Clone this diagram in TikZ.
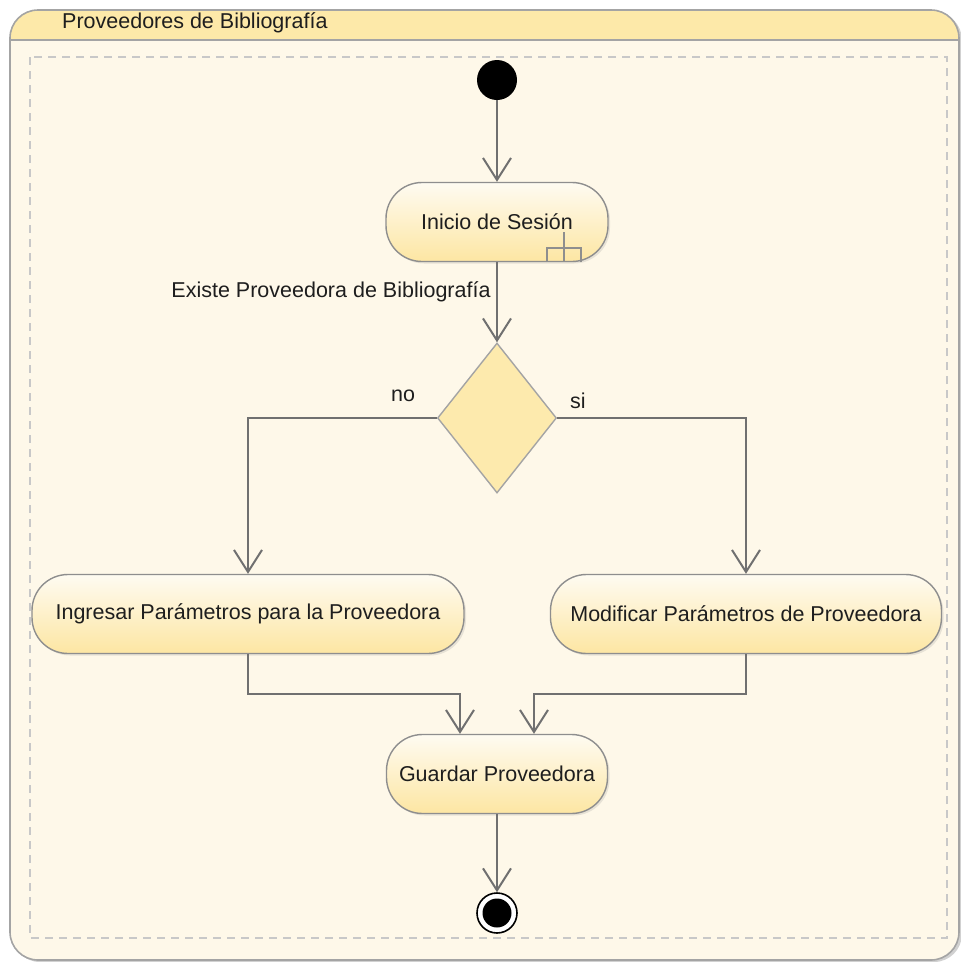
\documentclass[tikz,border=0pt]{standalone}
\usepackage{fontspec}
\setmainfont{Liberation Sans}
\usetikzlibrary{arrows.meta,shapes.geometric,shadows}
\definecolor{framefill}{HTML}{FEF8E9}
\definecolor{headfill}{HTML}{FDE9A9}
\definecolor{frameline}{HTML}{A4A4A4}
\definecolor{boxline}{HTML}{8E8E8E}
\definecolor{boxtop}{HTML}{FEFBF1}
\definecolor{boxbot}{HTML}{FDE6A3}
\definecolor{conn}{HTML}{707070}
\definecolor{dashc}{HTML}{C8C8C8}
\definecolor{txt}{HTML}{1E1E1E}
\tikzset{
  act/.style={rectangle, rounded corners=36pt, draw=boxline, line width=1.4pt,
    top color=boxtop, bottom color=boxbot, text=txt, font=\fontsize{21.5}{24}\selectfont,
    drop shadow={opacity=0.18, shadow xshift=2pt, shadow yshift=-2pt}},
  arr/.style={draw=conn, line width=2pt, -{Straight Barb[length=22pt,width=28pt,line width=2pt]}},
  lbl/.style={text=txt, font=\fontsize{21.5}{24}\selectfont, inner sep=0pt}
}
\begin{document}
\begin{tikzpicture}[x=1pt,y=-1pt]
\useasboundingbox (0,0) rectangle (961,962);
% frame
\fill[black!18] (12,12) [rounded corners=28pt] rectangle (962,962);
\fill[framefill, rounded corners=28pt] (10,10) rectangle (959,960);
\begin{scope}
  \clip (0,0) rectangle (961,40);
  \fill[headfill, rounded corners=28pt] (10,10) rectangle (959,960);
\end{scope}
\draw[frameline, line width=1.6pt] (10,40) -- (959,40);
\draw[frameline, line width=1.6pt, rounded corners=28pt] (10,10) rectangle (959,960);
\node[lbl, anchor=west] (title) at (62,23) {Proveedores de Bibliografía};
\draw[dashc, line width=1.4pt, dash pattern=on 8pt off 6pt] (30,57) rectangle (947,938);

% nodes
\node[circle, fill=black, minimum size=40pt, inner sep=0pt] (start) at (497,80) {};
\node[act, minimum width=222pt, minimum height=79pt] (ini) at (497,222) {Inicio de Sesión};
\draw[boxline, line width=1.4pt] (547,262) -- (547,248) -- (581,248) -- (581,262);
\draw[boxline, line width=1.4pt] (564,232) -- (564,262);
\node[lbl] (exi) at (331,292) {Existe Proveedora de Bibliografía};
\node[diamond, draw=frameline, line width=1.4pt, fill=headfill!95!white, minimum width=119pt, minimum height=150pt, inner sep=0pt] (dec) at (497,418) {};
\node[lbl] (no) at (403,396) {no};
\node[lbl] (si) at (578,401) {si};
\node[act, minimum width=432pt, minimum height=79pt] (ing) at (248,614) {Ingresar Parámetros para la Proveedora};
\node[act, minimum width=391pt, minimum height=79pt] (mod) at (746,614) {Modificar Parámetros de Proveedora};
\node[act, minimum width=221pt, minimum height=79pt] (gua) at (497,774) {Guardar Proveedora};
\node[circle, draw=black, line width=1.6pt, fill=white, minimum size=40pt, inner sep=0pt] (fin) at (497,913) {};
\node[circle, fill=black, minimum size=29pt, inner sep=0pt] (finin) at (497,913) {};

\coordinate (j1) at (460,694);
\coordinate (j2) at (534,694);

% connectors
\draw[arr] (start) -- (ini.north);
\draw[arr] (ini.south) -- (dec.north);
\draw[arr] (dec.west) -| (ing.north);
\draw[arr] (dec.east) -| (mod.north);
\draw[arr] (ing.south) |- (j1) -- (j1 |- gua.north);
\draw[arr] (mod.south) |- (j2) -- (j2 |- gua.north);
\draw[arr] (gua.south) -- (fin.north);
\end{tikzpicture}
\end{document}
